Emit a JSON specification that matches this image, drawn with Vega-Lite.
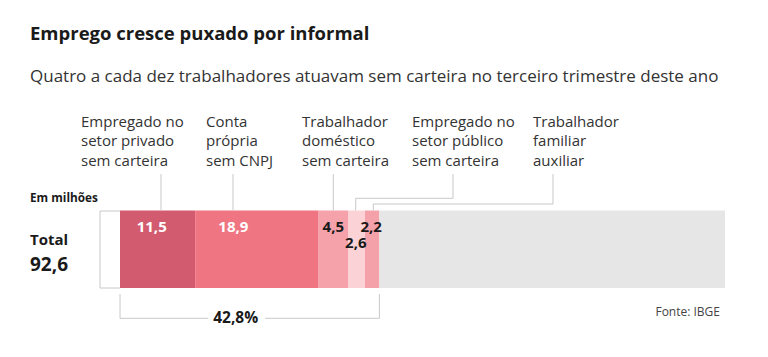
{
  "$schema": "https://vega.github.io/schema/vega-lite/v6.json",
  "width": 768,
  "height": 357,
  "padding": 0,
  "autosize": {"type": "fit", "contains": "padding"},
  "background": "#ffffff",
  "config": {
    "view": {"stroke": null},
    "axis": {"disable": true},
    "font": "Open Sans",
    "locale": {"number": {"decimal": ",", "thousands": ".", "grouping": [3], "currency": ["R$ ", ""]}}
  },
  "datasets": {
    "emprego": [
      {"categoria": "Empregado no setor privado sem carteira", "milhoes": 11.5, "ordem": 1},
      {"categoria": "Conta própria sem CNPJ", "milhoes": 18.9, "ordem": 2},
      {"categoria": "Trabalhador doméstico sem carteira", "milhoes": 4.5, "ordem": 3},
      {"categoria": "Empregado no setor público sem carteira", "milhoes": 2.6, "ordem": 4},
      {"categoria": "Trabalhador familiar auxiliar", "milhoes": 2.2, "ordem": 5},
      {"categoria": "Demais ocupados", "milhoes": 52.9, "ordem": 6}
    ]
  },
  "layer": [
    {
      "data": {"name": "emprego"},
      "transform": [
        {"stack": "milhoes", "groupby": [], "sort": [{"field": "ordem", "order": "ascending"}], "as": ["x0", "x1"]}
      ],
      "layer": [
        {
          "mark": {"type": "bar"},
          "encoding": {
            "x": {"field": "x0", "type": "quantitative", "scale": {"domain": [-18.367, 99.18], "nice": false, "zero": false}, "axis": null},
            "x2": {"field": "x1"},
            "y": {"datum": 210.5, "type": "quantitative", "scale": {"domain": [0, 357], "reverse": true, "nice": false, "zero": false}, "axis": null},
            "y2": {"datum": 288},
            "color": {
              "field": "categoria",
              "type": "nominal",
              "scale": {
                "domain": ["Empregado no setor privado sem carteira", "Conta própria sem CNPJ", "Trabalhador doméstico sem carteira", "Empregado no setor público sem carteira", "Trabalhador familiar auxiliar", "Demais ocupados"],
                "range": ["#d35b6f", "#f07582", "#f5a2aa", "#fbd2d5", "#f4a1a9", "#e6e6e6"]
              },
              "legend": null
            }
          }
        },
        {
          "transform": [{"filter": "datum.ordem == 1"}],
          "mark": {"type": "text", "align": "left", "baseline": "alphabetic", "dx": 16.7, "fontSize": 15, "fontWeight": "bold", "color": "#ffffff"},
          "encoding": {"x": {"field": "x0", "type": "quantitative"}, "y": {"datum": 231.7}, "text": {"field": "milhoes", "type": "quantitative", "format": ".1f"}}
        },
        {
          "transform": [{"filter": "datum.ordem == 2"}],
          "mark": {"type": "text", "align": "left", "baseline": "alphabetic", "dx": 23.2, "fontSize": 15, "fontWeight": "bold", "color": "#ffffff"},
          "encoding": {"x": {"field": "x0", "type": "quantitative"}, "y": {"datum": 231.7}, "text": {"field": "milhoes", "type": "quantitative", "format": ".1f"}}
        },
        {
          "transform": [{"filter": "datum.ordem == 3"}],
          "mark": {"type": "text", "align": "center", "baseline": "alphabetic", "dx": 14.7, "fontSize": 15, "fontWeight": "bold", "color": "#1a1a1a"},
          "encoding": {"x": {"field": "x0", "type": "quantitative"}, "y": {"datum": 231.7}, "text": {"field": "milhoes", "type": "quantitative", "format": ".1f"}}
        },
        {
          "transform": [{"filter": "datum.ordem == 4"}],
          "mark": {"type": "text", "align": "center", "baseline": "alphabetic", "dx": 7.8, "fontSize": 15, "fontWeight": "bold", "color": "#1a1a1a"},
          "encoding": {"x": {"field": "x0", "type": "quantitative"}, "y": {"datum": 248.3}, "text": {"field": "milhoes", "type": "quantitative", "format": ".1f"}}
        },
        {
          "transform": [{"filter": "datum.ordem == 5"}],
          "mark": {"type": "text", "align": "center", "baseline": "alphabetic", "dx": 6.2, "fontSize": 15, "fontWeight": "bold", "color": "#1a1a1a"},
          "encoding": {"x": {"field": "x0", "type": "quantitative"}, "y": {"datum": 231.7}, "text": {"field": "milhoes", "type": "quantitative", "format": ".1f"}}
        }
      ]
    },
    {
      "data": {"name": "emprego"},
      "transform": [{"aggregate": [{"op": "sum", "field": "milhoes", "as": "total"}]}],
      "mark": {"type": "text", "align": "left", "baseline": "alphabetic", "fontSize": 19, "fontWeight": "bold", "color": "#1a1a1a"},
      "encoding": {"x": {"datum": -13.775}, "y": {"datum": 270.5}, "text": {"field": "total", "type": "quantitative", "format": ".1f"}}
    },
    {
      "data": {"values": [{}]},
      "layer": [
        {"mark": {"type": "text", "align": "left", "baseline": "alphabetic", "fontSize": 18.5, "fontWeight": "bold", "color": "#1a1a1a", "text": "Emprego cresce puxado por informal"}, "encoding": {"x": {"datum": -13.775}, "y": {"datum": 40}}},
        {"mark": {"type": "text", "align": "left", "baseline": "alphabetic", "fontSize": 17, "color": "#333333", "text": "Quatro a cada dez trabalhadores atuavam sem carteira no terceiro trimestre deste ano"}, "encoding": {"x": {"datum": -13.775}, "y": {"datum": 82.3}}},
        {"mark": {"type": "text", "align": "left", "baseline": "alphabetic", "fontSize": 15, "lineHeight": 19.5, "color": "#333333", "text": ["Empregado no", "setor privado", "sem carteira"]}, "encoding": {"x": {"datum": -5.969}, "y": {"datum": 126.5}}},
        {"mark": {"type": "text", "align": "left", "baseline": "alphabetic", "fontSize": 15, "lineHeight": 19.5, "color": "#333333", "text": ["Conta", "própria", "sem CNPJ"]}, "encoding": {"x": {"datum": 13.163}, "y": {"datum": 126.5}}},
        {"mark": {"type": "text", "align": "left", "baseline": "alphabetic", "fontSize": 15, "lineHeight": 19.5, "color": "#333333", "text": ["Trabalhador", "doméstico", "sem carteira"]}, "encoding": {"x": {"datum": 27.856}, "y": {"datum": 126.5}}},
        {"mark": {"type": "text", "align": "left", "baseline": "alphabetic", "fontSize": 15, "lineHeight": 19.5, "color": "#333333", "text": ["Empregado no", "setor público", "sem carteira"]}, "encoding": {"x": {"datum": 44.693}, "y": {"datum": 126.5}}},
        {"mark": {"type": "text", "align": "left", "baseline": "alphabetic", "fontSize": 15, "lineHeight": 19.5, "color": "#333333", "text": ["Trabalhador", "familiar", "auxiliar"]}, "encoding": {"x": {"datum": 63.213}, "y": {"datum": 126.5}}},
        {"mark": {"type": "text", "align": "left", "baseline": "alphabetic", "fontSize": 11.8, "fontWeight": "bold", "color": "#1a1a1a", "text": "Em milhões"}, "encoding": {"x": {"datum": -13.775}, "y": {"datum": 202.3}}},
        {"mark": {"type": "text", "align": "left", "baseline": "alphabetic", "fontSize": 15, "fontWeight": "bold", "color": "#1a1a1a", "text": "Total"}, "encoding": {"x": {"datum": -13.775}, "y": {"datum": 245}}},
        {"mark": {"type": "text", "align": "right", "baseline": "alphabetic", "fontSize": 12, "color": "#444444", "text": "Fonte: IBGE"}, "encoding": {"x": {"datum": 91.835}, "y": {"datum": 316}}},
        {"mark": {"type": "text", "align": "center", "baseline": "alphabetic", "fontSize": 15.5, "fontWeight": "bold", "color": "#1a1a1a", "text": "42,8%"}, "encoding": {"x": {"datum": 17.7}, "y": {"datum": 323.3}}},
        {"mark": {"type": "rule", "color": "#c8c8c8", "strokeWidth": 1}, "encoding": {"x": {"datum": 6.275}, "y": {"datum": 174}, "y2": {"datum": 210.5}}},
        {"mark": {"type": "rule", "color": "#c8c8c8", "strokeWidth": 1}, "encoding": {"x": {"datum": 17.295}, "y": {"datum": 174}, "y2": {"datum": 210.5}}},
        {"mark": {"type": "rule", "color": "#c8c8c8", "strokeWidth": 1}, "encoding": {"x": {"datum": 32.647}, "y": {"datum": 174}, "y2": {"datum": 210.5}}},
        {"mark": {"type": "rule", "color": "#c8c8c8", "strokeWidth": 1}, "encoding": {"x": {"datum": 50.968}, "y": {"datum": 174}, "y2": {"datum": 198.3}}},
        {"mark": {"type": "rule", "color": "#c8c8c8", "strokeWidth": 1}, "encoding": {"x": {"datum": 36.076}, "x2": {"datum": 50.968}, "y": {"datum": 198.3}}},
        {"mark": {"type": "rule", "color": "#c8c8c8", "strokeWidth": 1}, "encoding": {"x": {"datum": 36.076}, "y": {"datum": 198.3}, "y2": {"datum": 210.5}}},
        {"mark": {"type": "rule", "color": "#c8c8c8", "strokeWidth": 1}, "encoding": {"x": {"datum": 66.274}, "y": {"datum": 174}, "y2": {"datum": 204}}},
        {"mark": {"type": "rule", "color": "#c8c8c8", "strokeWidth": 1}, "encoding": {"x": {"datum": 38.77}, "x2": {"datum": 66.274}, "y": {"datum": 204}}},
        {"mark": {"type": "rule", "color": "#c8c8c8", "strokeWidth": 1}, "encoding": {"x": {"datum": 38.77}, "y": {"datum": 204}, "y2": {"datum": 210.5}}},
        {"mark": {"type": "rule", "color": "#c8c8c8", "strokeWidth": 1}, "encoding": {"x": {"datum": -3.061}, "y": {"datum": 211}, "y2": {"datum": 288}}},
        {"mark": {"type": "rule", "color": "#c8c8c8", "strokeWidth": 1}, "encoding": {"x": {"datum": -3.061}, "x2": {"datum": 0}, "y": {"datum": 211}}},
        {"mark": {"type": "rule", "color": "#c8c8c8", "strokeWidth": 1}, "encoding": {"x": {"datum": -3.061}, "x2": {"datum": 0}, "y": {"datum": 288}}},
        {"mark": {"type": "rule", "color": "#c8c8c8", "strokeWidth": 1}, "encoding": {"x": {"datum": 0}, "y": {"datum": 294}, "y2": {"datum": 318.3}}},
        {"mark": {"type": "rule", "color": "#c8c8c8", "strokeWidth": 1}, "encoding": {"x": {"datum": 39.7}, "y": {"datum": 294}, "y2": {"datum": 318.3}}},
        {"mark": {"type": "rule", "color": "#c8c8c8", "strokeWidth": 1}, "encoding": {"x": {"datum": 0}, "x2": {"datum": 13.515}, "y": {"datum": 318.3}}},
        {"mark": {"type": "rule", "color": "#c8c8c8", "strokeWidth": 1}, "encoding": {"x": {"datum": 22.19}, "x2": {"datum": 39.7}, "y": {"datum": 318.3}}}
      ]
    }
  ]
}
